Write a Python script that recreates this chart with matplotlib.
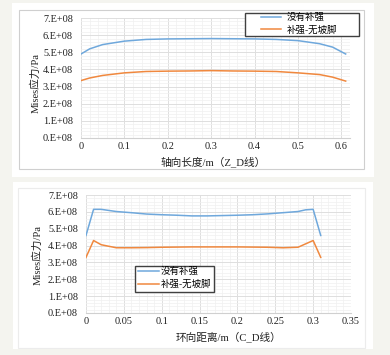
import matplotlib
matplotlib.use("Agg")
import matplotlib.pyplot as plt
from matplotlib.patches import Rectangle
from matplotlib.ticker import MultipleLocator, FuncFormatter

# ---- data ----
z_x = [0, 0.02, 0.05, 0.1, 0.15, 0.2, 0.25, 0.3, 0.35, 0.4, 0.45, 0.5, 0.55, 0.58, 0.61]
z_blue = [4.9e8, 5.2e8, 5.45e8, 5.65e8, 5.75e8, 5.78e8, 5.79e8, 5.8e8, 5.79e8, 5.78e8, 5.75e8, 5.68e8, 5.5e8, 5.3e8, 4.9e8]
z_orange = [3.35e8, 3.5e8, 3.65e8, 3.8e8, 3.88e8, 3.9e8, 3.91e8, 3.93e8, 3.91e8, 3.9e8, 3.88e8, 3.8e8, 3.7e8, 3.55e8, 3.32e8]

c_x = [0, 0.01, 0.02, 0.04, 0.06, 0.08, 0.1, 0.12, 0.14, 0.16, 0.18, 0.2, 0.22, 0.24, 0.26, 0.28, 0.29, 0.30, 0.31]
c_blue = [4.6e8, 6.15e8, 6.15e8, 6.02e8, 5.95e8, 5.87e8, 5.83e8, 5.8e8, 5.76e8, 5.76e8, 5.78e8, 5.8e8, 5.83e8, 5.88e8, 5.95e8, 6.02e8, 6.12e8, 6.15e8, 4.6e8]
c_orange = [3.3e8, 4.3e8, 4.05e8, 3.87e8, 3.87e8, 3.88e8, 3.9e8, 3.91e8, 3.92e8, 3.92e8, 3.92e8, 3.92e8, 3.91e8, 3.9e8, 3.87e8, 3.9e8, 4.1e8, 4.3e8, 3.3e8]

series_names = ["没有补强", "补强-无坡脚"]
top_xlabel = "轴向长度/m（Z_D线）"
bot_xlabel = "环向距离/m（C_D线）"
ylabel = "Mises应力/Pa"

BLUE = "#6fa8dc"
ORANGE = "#f0883e"
FONT = ["Liberation Serif", "Noto Sans CJK SC"]
FS = 7.4
LFS = 6.8

W, H = 390, 355
fig = plt.figure(figsize=(W / 100, H / 100), dpi=100)
fig.patch.set_facecolor("#f4f4ef")

def px_rect(x0, y0, x1, y1, z=-10, **kw):
    r = Rectangle((x0 / W, 1 - y1 / H), (x1 - x0) / W, (y1 - y0) / H,
                  transform=fig.transFigure, zorder=z, **kw)
    fig.patches.append(r)

# white panels and inner borders
px_rect(12, 3, 374, 177, facecolor="white", edgecolor="none")
px_rect(19, 10, 364, 169, facecolor="none", edgecolor="#cfcfcf", linewidth=0.8)
px_rect(13, 182, 373, 349, facecolor="white", edgecolor="none")
px_rect(18, 188, 365, 348, facecolor="none", edgecolor="#ececec", linewidth=0.8)

def ax_at(x0, y0, x1, y1):
    return fig.add_axes([x0 / W, 1 - y1 / H, (x1 - x0) / W, (y1 - y0) / H])

def yfmt(v, pos):
    return "%d.E+08" % round(v / 1e8)

def xfmt(v, pos):
    s = ("%.2f" % v).rstrip("0").rstrip(".")
    return s if s else "0"

def style(ax, xmax, xmajor, xminor):
    ax.set_facecolor("white")
    ax.set_ylim(0, 7e8)
    ax.set_xlim(0, xmax)
    ax.yaxis.set_major_locator(MultipleLocator(1e8))
    ax.yaxis.set_minor_locator(MultipleLocator(0.2e8))
    ax.xaxis.set_major_locator(MultipleLocator(xmajor))
    ax.xaxis.set_minor_locator(MultipleLocator(xminor))
    ax.yaxis.set_major_formatter(FuncFormatter(yfmt))
    ax.xaxis.set_major_formatter(FuncFormatter(xfmt))
    ax.grid(True, which="major", color="#dedede", linewidth=0.7)
    ax.grid(True, which="minor", color="#f0f0f0", linewidth=0.5)
    ax.set_axisbelow(True)
    for s in ["top", "right", "left"]:
        ax.spines[s].set_visible(False)
    ax.spines["bottom"].set_color("#d0d0d0")
    ax.spines["bottom"].set_linewidth(0.8)
    ax.tick_params(which="both", length=0, labelsize=FS, colors="#222222")
    ax.tick_params(axis="y", pad=5.8)
    ax.tick_params(axis="x", pad=3)
    for lab in ax.get_xticklabels() + ax.get_yticklabels():
        lab.set_family(FONT)

def legend_at(ax, box, anchor, hl, htp, ls):
    x0, y0, x1, y1 = box
    px_rect(x0, y0, x1, y1, z=5, facecolor="white", edgecolor="#404040", linewidth=1.0)
    leg = ax.legend(loc="upper left", bbox_to_anchor=(anchor[0] / W, 1 - anchor[1] / H),
                    bbox_transform=fig.transFigure, frameon=False,
                    prop={"family": FONT, "size": LFS},
                    handlelength=hl, handletextpad=htp, borderpad=0, labelspacing=ls,
                    borderaxespad=0)
    leg.set_zorder(6)
    fig.legends.append(leg)
    ax.legend_ = None
    return leg

# top chart
ax1 = ax_at(81, 18, 350, 138)
ax1.plot(z_x, z_blue, color=BLUE, lw=1.1, label=series_names[0])
ax1.plot(z_x, z_orange, color=ORANGE, lw=1.1, label=series_names[1])
style(ax1, 0.62, 0.1, 0.02)
fig.text(213 / W, 1 - 162 / H, top_xlabel, ha="center", va="center",
         fontsize=FS + 0.3, family=FONT, color="#222222")
fig.text(35 / W, 1 - 83 / H, ylabel, ha="center", va="center", rotation=90,
         fontsize=FS + 0.3, family=FONT, color="#222222")
legend_at(ax1, (245, 13, 359, 36), (261, 12.5), 2.1, 0.6, 0.35)

# bottom chart
ax2 = ax_at(86, 195, 351, 313)
ax2.plot(c_x, c_blue, color=BLUE, lw=1.1, label=series_names[0])
ax2.plot(c_x, c_orange, color=ORANGE, lw=1.1, label=series_names[1])
style(ax2, 0.35, 0.05, 0.01)
fig.text(228 / W, 1 - 337 / H, bot_xlabel, ha="center", va="center",
         fontsize=FS + 0.3, family=FONT, color="#222222")
fig.text(37 / W, 1 - 255 / H, ylabel, ha="center", va="center", rotation=90,
         fontsize=FS + 0.3, family=FONT, color="#222222")
legend_at(ax2, (135, 266, 214, 292), (138, 267), 2.2, 0.2, 0.35)

fig.savefig("out.png", dpi=100, facecolor=fig.get_facecolor())
